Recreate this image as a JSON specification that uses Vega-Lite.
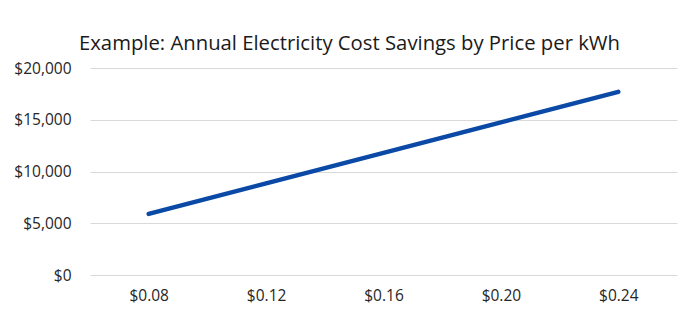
{
  "$schema": "https://vega.github.io/schema/vega-lite/v6.json",
  "autosize": "none",
  "width": 587,
  "height": 207,
  "padding": {"left": 90, "top": 68, "right": 23, "bottom": 46},
  "background": "white",
  "title": {
    "text": "Example: Annual Electricity Cost Savings by Price per kWh",
    "font": "Open Sans",
    "fontSize": 20.3,
    "fontWeight": "normal",
    "color": "#1a1a1a",
    "anchor": "middle",
    "dx": -34,
    "dy": -3
  },
  "data": {
    "values": [
      {"price": "$0.08", "savings": 5900},
      {"price": "$0.12", "savings": 8850},
      {"price": "$0.16", "savings": 11800},
      {"price": "$0.20", "savings": 14750},
      {"price": "$0.24", "savings": 17700}
    ]
  },
  "mark": {"type": "line", "color": "#0a4aa6", "strokeWidth": 4.5, "strokeCap": "round"},
  "encoding": {
    "x": {
      "field": "price",
      "type": "ordinal",
      "sort": null,
      "scale": {"type": "point", "padding": 0.5},
      "axis": {
        "title": null,
        "labelAngle": 0,
        "ticks": false,
        "domain": false,
        "grid": false,
        "labelFont": "Open Sans",
        "labelFontSize": 15.5,
        "labelColor": "#262626",
        "labelPadding": 13
      }
    },
    "y": {
      "field": "savings",
      "type": "quantitative",
      "scale": {"domain": [0, 20000]},
      "axis": {
        "title": null,
        "values": [0, 5000, 10000, 15000, 20000],
        "format": "$,.0f",
        "ticks": false,
        "domain": false,
        "gridColor": "#d9d9d9",
        "gridWidth": 1,
        "labelFont": "Open Sans",
        "labelFontSize": 15.5,
        "labelColor": "#262626",
        "labelPadding": 19
      }
    }
  },
  "config": {"view": {"stroke": null}}
}
